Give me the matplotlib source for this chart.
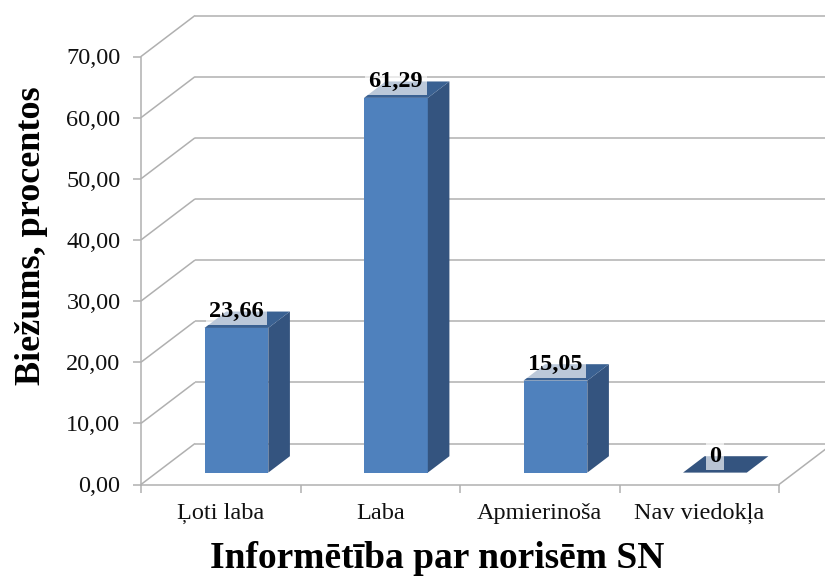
import matplotlib
matplotlib.use("Agg")
import matplotlib.pyplot as plt
from matplotlib.patches import Polygon

categories = ["Ļoti laba", "Laba", "Apmierinoša", "Nav viedokļa"]
values = [23.66, 61.29, 15.05, 0]
value_labels = ["23,66", "61,29", "15,05", "0"]
y_ticks = [0, 10, 20, 30, 40, 50, 60, 70]
y_tick_labels = ["0,00", "10,00", "20,00", "30,00", "40,00", "50,00", "60,00", "70,00"]

W, H = 825, 581
L, R, B, T = 141, 779, 484.5, 56.5
DX = 54 / ((R - L) / 4)          # depth shift in category units
DY = 41 / ((B - T) / 70)         # depth shift in value units
BAR_W = 0.40
D0, D1 = 0.29, 0.69
GRID = "#B0B0B0"
FRONT, SIDE, TOP = "#4F81BD", "#34547F", "#3A6192"

plt.rcParams["font.family"] = ["Liberation Serif", "DejaVu Serif"]
fig = plt.figure(figsize=(W / 100, H / 100), dpi=100, facecolor="white")
ax = fig.add_axes([L / W, 1 - B / H, (R - L) / W, (B - T) / H])
ax.set_xlim(0, 4)
ax.set_ylim(0, 70)
ax.patch.set_visible(False)


def grid_line(xs, ys):
    ax.plot(xs, ys, color=GRID, lw=1.1, clip_on=False, zorder=1, solid_capstyle="butt")


for v in y_ticks:
    grid_line([0, DX], [v, v + DY])
    grid_line([DX, 4 + DX], [v + DY, v + DY])
grid_line([4, 4 + DX], [0, DY])

for i, v in enumerate(values):
    x0 = i + 0.5 - BAR_W / 2 + D0 * DX
    x1 = x0 + BAR_W
    dx = (D1 - D0) * DX
    dy = (D1 - D0) * DY
    y0 = D0 * DY
    if v > 0:
        ax.bar(x0, v, width=BAR_W, bottom=y0, align="edge", color=FRONT, zorder=3)
        ax.add_patch(Polygon([(x1, y0), (x1 + dx, y0 + dy), (x1 + dx, y0 + v + dy), (x1, y0 + v)],
                             closed=True, fc=SIDE, ec="none", zorder=3, clip_on=False))
    ax.add_patch(Polygon([(x0, y0 + v), (x1, y0 + v), (x1 + dx, y0 + v + dy), (x0 + dx, y0 + v + dy)],
                         closed=True, fc=TOP if v > 0 else SIDE, ec="none", zorder=3, clip_on=False))
    ax.text(x0 + BAR_W / 2, y0 + v + dy, value_labels[i], ha="center", va="center",
            fontsize=17.5, fontweight="bold", color="black", zorder=5, clip_on=False,
            bbox=dict(boxstyle="square,pad=0.14", fc="white", ec="none", alpha=0.66))

for s in ("top", "right"):
    ax.spines[s].set_visible(False)
for s in ("left", "bottom"):
    ax.spines[s].set_color(GRID)
    ax.spines[s].set_linewidth(1.1)

ax.set_yticks(y_ticks)
ax.set_yticklabels(y_tick_labels, fontsize=17.5, color="#111111")
ax.set_xticks(range(5))
ax.set_xticklabels([])
ax.set_xticks([i + 0.5 for i in range(4)], minor=True)
ax.set_xticklabels(categories, minor=True, fontsize=17.5, color="#111111")
ax.tick_params(axis="both", which="major", color=GRID, length=5.8, width=1.1)
ax.tick_params(axis="y", pad=9)
ax.tick_params(axis="x", which="minor", length=0, pad=13)

fig.text(437 / W, 1 - 558 / H, "Informētība par norisēm SN", ha="center", va="center",
         fontsize=27, fontweight="bold", color="black")
fig.text(32 / W, 1 - 236 / H, "Biežums, procentos", ha="center", va="center", rotation=90,
         fontsize=26, fontweight="bold", color="black")

fig.savefig("out.png", dpi=100)
